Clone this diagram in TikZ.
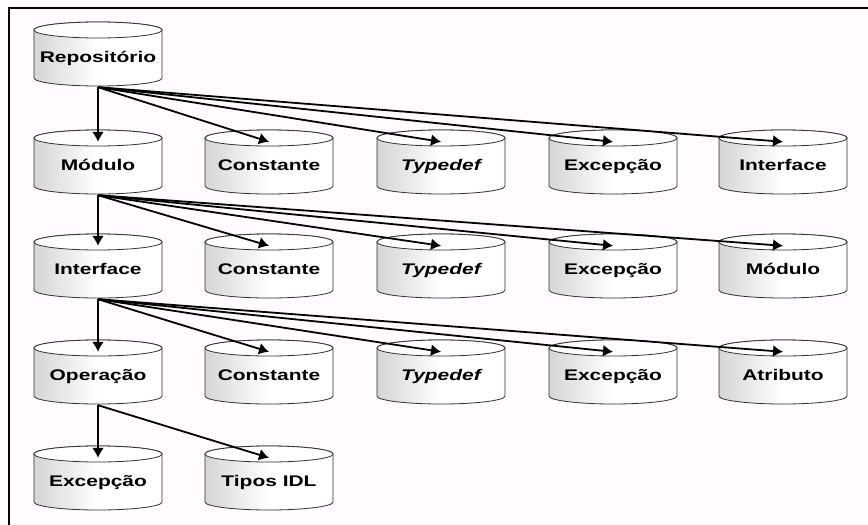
\documentclass[tikz,border=0pt]{standalone}
\usepackage{fontspec}
\setmainfont{Liberation Sans}
\newfontfamily\labfont[FakeStretch=1.36]{Liberation Sans}
\usepackage{xcolor}
\usepackage{tikz}
\usetikzlibrary{arrows.meta}
\definecolor{bg}{HTML}{FFFBFE}
\definecolor{ink}{HTML}{000000}
\definecolor{rim}{HTML}{303030}
\definecolor{bodyl}{HTML}{ABABAB}
\definecolor{bodyr}{HTML}{DCDCDC}
\pgfdeclarehorizontalshading{cylbody}{100bp}{color(0bp)=(bodyl); color(20bp)=(bodyl!60!white); color(50bp)=(white); color(75bp)=(white); color(100bp)=(bodyr)}
\tikzset{
  db/.style={rectangle, minimum width=130pt, minimum height=66pt, inner sep=0pt,
    text height=17pt, text depth=0pt,
    path picture={
      \coordinate (c) at (path picture bounding box.center);
      \shade[shading=cylbody, draw=rim, line width=0.8pt]
        ([xshift=-64pt,yshift=24pt]c) -- ([xshift=-64pt,yshift=-24pt]c)
        arc[start angle=180, end angle=360, x radius=64pt, y radius=8pt]
        -- ([xshift=64pt,yshift=24pt]c)
        arc[start angle=0, end angle=180, x radius=64pt, y radius=8pt] -- cycle;
      \filldraw[fill=white, draw=rim, line width=0.8pt] ([yshift=24pt]c) ellipse [x radius=64pt, y radius=8pt];
    },
    font=\labfont\bfseries\fontsize{15.4}{18}\selectfont},
  arr/.style={draw=ink, line width=1.8pt, -{Latex[length=10pt,width=12pt]}},
  frame/.style={draw=ink, line width=2pt},
}

\begin{document}
\begin{tikzpicture}[x=1pt,y=-1pt]
  \fill[bg] (0,0) rectangle (868,525);
  \useasboundingbox (0,0) rectangle (868,525);
  \draw[frame] (9,525) -- (9,8) -- (868,8);

  % level 1
  \node[db] (rep) at (98,54) {Repositório};
  % level 2
  \node[db] (mod) at (98,162) {Módulo};
  \node[db] (con1) at (269,162) {Constante};
  \node[db] (typ1) at (441,162) {{\itshape Typedef}};
  \node[db] (exc1) at (613,162) {Excepção};
  \node[db] (int1) at (783,162) {Interface};
  % level 3
  \node[db] (int) at (98,266) {Interface};
  \node[db] (con2) at (269,266) {Constante};
  \node[db] (typ2) at (441,266) {{\itshape Typedef}};
  \node[db] (exc2) at (613,266) {Excepção};
  \node[db] (mod2) at (783,266) {Módulo};
  % level 4
  \node[db] (ope) at (98,372) {Operação};
  \node[db] (con3) at (269,372) {Constante};
  \node[db] (typ3) at (441,372) {{\itshape Typedef}};
  \node[db] (exc3) at (613,372) {Excepção};
  \node[db] (atr) at (783,372) {Atributo};
  % level 5
  \node[db] (exc4) at (98,478) {Excepção};
  \node[db] (idl) at (269,478) {Tipos IDL};

  \draw[arr] (rep.south) -- ([yshift=-13pt]mod.north);
  \draw[arr] (rep.south) -- ([yshift=-13pt]con1.north);
  \draw[arr] (rep.south) -- ([yshift=-13pt]typ1.north);
  \draw[arr] (rep.south) -- ([yshift=-13pt]exc1.north);
  \draw[arr] (rep.south) -- ([yshift=-13pt]int1.north);

  \draw[arr] (mod.south) -- ([yshift=-13pt]int.north);
  \draw[arr] (mod.south) -- ([yshift=-13pt]con2.north);
  \draw[arr] (mod.south) -- ([yshift=-13pt]typ2.north);
  \draw[arr] (mod.south) -- ([yshift=-13pt]exc2.north);
  \draw[arr] (mod.south) -- ([yshift=-13pt]mod2.north);

  \draw[arr] (int.south) -- ([yshift=-13pt]ope.north);
  \draw[arr] (int.south) -- ([yshift=-13pt]con3.north);
  \draw[arr] (int.south) -- ([yshift=-13pt]typ3.north);
  \draw[arr] (int.south) -- ([yshift=-13pt]exc3.north);
  \draw[arr] (int.south) -- ([yshift=-13pt]atr.north);

  \draw[arr] (ope.south) -- ([yshift=-13pt]exc4.north);
  \draw[arr] (ope.south) -- ([yshift=-13pt]idl.north);
\end{tikzpicture}
\end{document}
